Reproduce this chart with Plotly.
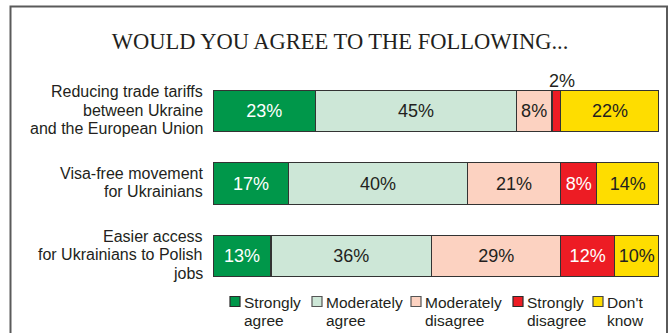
import plotly.graph_objects as go

# Survey questions (y-axis categories, top to bottom)
categories = [
    "Reducing trade tariffs<br>between Ukraine<br>and the European Union",
    "Visa-free movement<br>for Ukrainians",
    "Easier access<br>for Ukrainians to Polish<br>jobs",
]

# Answer shares in percent, one list per answer option
strongly_agree = [23, 17, 13]
moderately_agree = [45, 40, 36]
moderately_disagree = [8, 21, 29]
strongly_disagree = [2, 8, 12]
dont_know = [22, 14, 10]

series_names = ["Strongly agree", "Moderately agree", "Moderately disagree",
                "Strongly disagree", "Don't know"]
legend_labels = ["Strongly<br>agree", "Moderately<br>agree", "Moderately<br>disagree",
                 "Strongly<br>disagree", "Don't<br>know"]
series_values = [strongly_agree, moderately_agree, moderately_disagree,
                 strongly_disagree, dont_know]

colors = ["#00974a", "#cde7d7", "#fcd2c1", "#ed1c24", "#fedd00"]
text_colors = ["#ffffff", "#231f20", "#231f20", "#ffffff", "#231f20"]
edge_colors = ["#2b2b2b", "#555555", "#555555", "#2b2b2b", "#444444"]

W, H = 672, 333
M_L, M_R, M_T, M_B = 213, 13, 75, 41
PW, PH = W - M_L - M_R, H - M_T - M_B

FONT = "Liberation Sans, Arial"
INK = "#231f20"


def px(x):
    """Pixel x -> paper x."""
    return (x - M_L) / PW


def py(y):
    """Pixel y (from top) -> paper y."""
    return (H - M_B - y) / PH


SMALL = 5  # segments narrower than this get their label above the bar

fig = go.Figure()
for name, vals, col, tcol in zip(series_names, series_values, colors, text_colors):
    fig.add_trace(go.Bar(
        name=name,
        y=categories,
        x=vals,
        orientation="h",
        marker=dict(color=col, line=dict(color="#333333", width=1.2)),
        text=[f"{v}%" if v >= SMALL else "" for v in vals],
        textposition="inside",
        insidetextanchor="middle",
        textfont=dict(family=FONT, size=18, color=tcol),
        showlegend=False,
        hoverinfo="skip",
    ))

annotations = []

# question labels, right-aligned beside each bar, one annotation per line
LINE_H = 18.5
for cat in categories:
    lines = cat.split("<br>")
    n = len(lines)
    for i, line in enumerate(lines):
        annotations.append(dict(
            x=px(205), y=cat, xref="paper", yref="y",
            xanchor="right", yanchor="middle",
            text=line, showarrow=False,
            yshift=((n - 1) / 2 - i) * LINE_H + 1,
            font=dict(family=FONT, size=16, color=INK),
        ))

# labels for narrow segments, placed above the bar
for si, vals in enumerate(series_values):
    for ci, v in enumerate(vals):
        if v < SMALL:
            left = sum(series_values[k][ci] for k in range(si))
            annotations.append(dict(
                x=left + v / 2, y=categories[ci], xref="x", yref="y",
                text=f"{v}%", showarrow=False, xshift=6, yshift=30,
                font=dict(family=FONT, size=18, color=INK),
            ))

# legend: swatch + two-line label
legend_swatch_x = [230, 312, 411, 513, 593]
shapes = []
for lx, lab, col, ecol in zip(legend_swatch_x, legend_labels, colors, edge_colors):
    shapes.append(dict(
        type="rect", xref="paper", yref="paper",
        x0=px(lx), x1=px(lx + 10), y0=py(306.5), y1=py(296.5),
        fillcolor=col, line=dict(color=ecol, width=1.2),
    ))
    first, second = lab.split("<br>")
    for j, part in enumerate((first, second)):
        annotations.append(dict(
            x=px(lx + 12), y=py(302 + 18 * j), xref="paper", yref="paper",
            xanchor="left", yanchor="middle", align="left",
            text=part, showarrow=False,
            font=dict(family=FONT, size=15.5, color=INK),
        ))

# outer frame
shapes.append(dict(
    type="rect", xref="paper", yref="paper",
    x0=px(10.5), x1=px(667), y0=py(350), y1=py(6.5),
    line=dict(color="#5a5a5a", width=2), fillcolor="rgba(0,0,0,0)", layer="below",
))

fig.update_layout(
    width=W, height=H,
    margin=dict(l=M_L, r=M_R, t=M_T, b=M_B),
    barmode="stack",
    bargap=0.43,
    paper_bgcolor="white",
    plot_bgcolor="white",
    uniformtext=dict(minsize=18, mode="show"),
    title=dict(
        text="WOULD YOU AGREE TO THE FOLLOWING...",
        x=340 / W, xanchor="center", xref="container",
        y=1 - 41 / H, yanchor="middle",
        font=dict(family="Liberation Serif, Times New Roman", size=22.5, color=INK),
    ),
    xaxis=dict(range=[0, 100], visible=False, fixedrange=True),
    yaxis=dict(
        categoryorder="array", categoryarray=categories, autorange="reversed",
        showgrid=False, zeroline=False, showline=False, ticks="",
        showticklabels=False,
    ),
    annotations=annotations,
    shapes=shapes,
    showlegend=False,
)

fig.write_html("out.html")
